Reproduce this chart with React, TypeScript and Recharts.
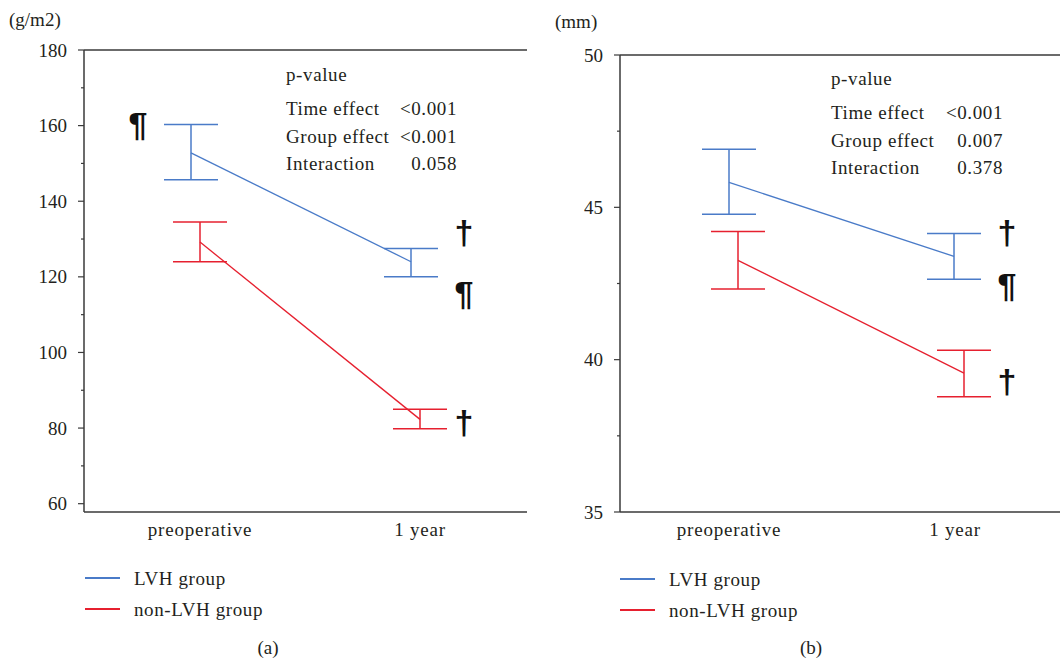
import React from 'react';
import { LineChart, Line, XAxis, YAxis, ErrorBar, ReferenceLine, ReferenceDot } from 'recharts';

const times = ['preoperative', '1 year'];

// (a) g/m2 : mean and error-bar ends per time point
const massLvhMean = [152.8, 124.0];
const massLvhLow = [145.7, 120.0];
const massLvhHigh = [160.3, 127.5];
const massNonMean = [129.2, 82.3];
const massNonLow = [124.0, 79.8];
const massNonHigh = [134.5, 85.0];
const massTicks = [60, 70, 80, 90, 100, 110, 120, 130, 140, 150, 160, 170, 180];
const massLabelled = [60, 80, 100, 120, 140, 160, 180];
const massDomain = [57.8, 180];
const massPvalues = [
  ['Time effect', '<0.001'],
  ['Group effect', '<0.001'],
  ['Interaction', '0.058'],
];

// (b) mm
const dimLvhMean = [45.82, 43.39];
const dimLvhLow = [44.77, 42.64];
const dimLvhHigh = [46.91, 44.14];
const dimNonMean = [43.26, 39.56];
const dimNonLow = [42.32, 38.78];
const dimNonHigh = [44.21, 40.31];
const dimTicks = [35, 37.5, 40, 42.5, 45, 47.5, 50];
const dimLabelled = [35, 40, 45, 50];
const dimDomain = [35, 50];
const dimPvalues = [
  ['Time effect', '<0.001'],
  ['Group effect', '0.007'],
  ['Interaction', '0.378'],
];

// significance symbols: which point and which value they sit beside
const massMarks = [
  { series: 'lvh', idx: 0, at: 'High', side: 'left', symbol: '¶' },
  { series: 'lvh', idx: 1, at: 'High', side: 'right', symbol: '†' },
  { series: 'lvh', idx: 1, at: 'Low', side: 'right', symbol: '¶' },
  { series: 'non', idx: 1, at: '', side: 'right', symbol: '†' },
];
const dimMarks = [
  { series: 'lvh', idx: 1, at: 'High', side: 'right', symbol: '†' },
  { series: 'lvh', idx: 1, at: 'Low', side: 'right', symbol: '¶' },
  { series: 'non', idx: 1, at: '', side: 'right', symbol: '†' },
];

const seriesNames = ['LVH group', 'non-LVH group'];

const BLUE = '#4a7bc8';
const RED = '#e6202f';
const INK = '#231f20';
const FRAME = '#3a3a3a';
const SERIF = "'Liberation Serif', 'DejaVu Serif', serif";

function buildRows(lm: number[], ll: number[], lh: number[], nm: number[], nl: number[], nh: number[]) {
  return times.map((time, i) => ({
    time,
    lvh: lm[i],
    lvhLow: ll[i],
    lvhHigh: lh[i],
    lvhErr: [lm[i] - ll[i], lh[i] - lm[i]],
    non: nm[i],
    nonLow: nl[i],
    nonHigh: nh[i],
    nonErr: [nm[i] - nl[i], nh[i] - nm[i]],
  }));
}

const YTick = ({ x, y, payload, labelled }: any) => {
  const major = labelled.includes(payload.value);
  return (
    <g>
      <line x1={x - (major ? 6 : 3)} x2={x} y1={y} y2={y} stroke={FRAME} strokeWidth={1.2} />
      {major && (
        <text x={x - 17} y={y} dy="0.35em" textAnchor="end" style={{ fontFamily: SERIF, fontSize: 19 }} fill={INK}>
          {payload.value}
        </text>
      )}
    </g>
  );
};

const XTick = ({ x, y, payload, shift }: any) => (
  <text x={x + shift} y={y + 23.5} textAnchor="middle" style={{ fontFamily: SERIF, fontSize: 19, letterSpacing: 0.8 }} fill={INK}>
    {payload.value}
  </text>
);

function Panel({ rows, domain, ticks, labelled, marks, nudge, cfg }: any) {
  return (
    <LineChart width={cfg.width} height={560} data={rows} margin={cfg.margin}>
      <XAxis xAxisId="blue" dataKey="time" scale="point" padding={cfg.bluePad} height={0} hide />
      <XAxis
        xAxisId="red"
        dataKey="time"
        scale="point"
        padding={cfg.redPad}
        height={40}
        interval={0}
        axisLine={{ stroke: FRAME, strokeWidth: 1.5 }}
        tickLine={false}
        tickSize={0}
        tickMargin={0}
        tick={(p: any) => <XTick {...p} shift={cfg.labelShift} />}
      />
      <YAxis
        yAxisId="v"
        type="number"
        domain={domain}
        allowDataOverflow
        ticks={ticks}
        interval={0}
        width={cfg.yWidth}
        axisLine={{ stroke: FRAME, strokeWidth: 1.5 }}
        tickLine={false}
        tickSize={0}
        tickMargin={0}
        tick={(p: any) => <YTick {...p} labelled={labelled} />}
      />
      <YAxis
        yAxisId="frame"
        orientation="right"
        width={0}
        tick={false}
        tickLine={false}
        axisLine={{ stroke: FRAME, strokeWidth: 1.5 }}
      />
      <ReferenceLine xAxisId="red" yAxisId="v" y={domain[1]} stroke={FRAME} strokeWidth={1.5} />

      <Line xAxisId="blue" yAxisId="v" dataKey="lvh" stroke={BLUE} strokeWidth={1.3} dot={false} isAnimationActive={false}>
        <ErrorBar dataKey="lvhErr" width={27} stroke={BLUE} strokeWidth={1.5} direction="y" />
      </Line>
      <Line xAxisId="red" yAxisId="v" dataKey="non" stroke={RED} strokeWidth={1.3} dot={false} isAnimationActive={false}>
        <ErrorBar dataKey="nonErr" width={27} stroke={RED} strokeWidth={1.5} direction="y" />
      </Line>

      {marks.map((m: any, i: number) => (
        <ReferenceDot
          key={i}
          xAxisId="blue"
          yAxisId="v"
          x={times[m.idx]}
          y={rows[m.idx][m.series + m.at]}
          r={1}
          shape={(p: any) => (
            <text
              x={p.cx + (m.side === 'left' ? -53 : 53)}
              y={p.cy + (m.side === 'left' ? nudge.Left : nudge[m.at || 'Mean'])}
              dominantBaseline="central"
              textAnchor="middle"
              style={{ fontFamily: "'Liberation Sans', Arial, sans-serif", fontSize: 34, fontWeight: 'bold' }}
              fill="#111"
            >
              {m.symbol}
            </text>
          )}
        />
      ))}
    </LineChart>
  );
}

function Notes({ x, valueX, y, pvalues }: any) {
  return (
    <g style={{ fontFamily: SERIF, fontSize: 19, letterSpacing: 0.6 }} fill={INK}>
      <text x={x} y={y}>p-value</text>
      {pvalues.map((row: string[], i: number) => (
        <g key={row[0]}>
          <text x={x} y={y + 34 + i * 27.6}>{row[0]}</text>
          <text x={valueX} y={y + 34 + i * 27.6} textAnchor="end">{row[1]}</text>
        </g>
      ))}
    </g>
  );
}

function Legend({ x, y }: any) {
  const colors = [BLUE, RED];
  return (
    <g style={{ fontFamily: SERIF, fontSize: 19, letterSpacing: 0.6 }} fill={INK}>
      {seriesNames.map((name, i) => (
        <g key={name}>
          <line x1={x} x2={x + 35} y1={y + i * 31} y2={y + i * 31} stroke={colors[i]} strokeWidth={1.8} />
          <text x={x + 49} y={y + i * 31 + 7}>{name}</text>
        </g>
      ))}
    </g>
  );
}

export default function App() {
  const massRows = buildRows(massLvhMean, massLvhLow, massLvhHigh, massNonMean, massNonLow, massNonHigh);
  const dimRows = buildRows(dimLvhMean, dimLvhLow, dimLvhHigh, dimNonMean, dimNonLow, dimNonHigh);

  return (
    <div style={{ position: 'absolute', left: 0, top: 0, width: 1060, height: 664, overflow: 'hidden', background: '#fff' }}>
      <div style={{ position: 'absolute', left: 0, top: 0 }}>
        <Panel
          rows={massRows}
          domain={massDomain}
          ticks={massTicks}
          labelled={massLabelled}
          marks={massMarks}
          nudge={{ High: -16, Low: 16.5, Mean: 3, Left: 0 }}
          cfg={{
            width: 540,
            margin: { top: 50, right: 13, left: 0, bottom: 8 },
            yWidth: 84,
            bluePad: { left: 107, right: 116 },
            redPad: { left: 116, right: 107 },
            labelShift: 0,
          }}
        />
      </div>
      <div style={{ position: 'absolute', left: 530, top: 0 }}>
        <Panel
          rows={dimRows}
          domain={dimDomain}
          ticks={dimTicks}
          labelled={dimLabelled}
          marks={dimMarks}
          nudge={{ High: -2, Low: 6, Mean: 8, Left: 0 }}
          cfg={{
            width: 542,
            margin: { top: 55, right: 10, left: 0, bottom: 8 },
            yWidth: 90,
            bluePad: { left: 109, right: 108 },
            redPad: { left: 118, right: 98 },
            labelShift: -9,
          }}
        />
      </div>
      <svg width={1060} height={664} style={{ position: 'absolute', left: 0, top: 0, pointerEvents: 'none' }}>
        <g style={{ fontFamily: SERIF, fontSize: 19 }} fill={INK}>
          <text x={9} y={26}>(g/m2)</text>
          <text x={555} y={28}>(mm)</text>
          <text x={268} y={654} textAnchor="middle">(a)</text>
          <text x={811} y={654} textAnchor="middle">(b)</text>
        </g>
        <Notes x={286} valueX={457} y={81} pvalues={massPvalues} />
        <Notes x={831} valueX={1003} y={85} pvalues={dimPvalues} />
        <Legend x={85} y={578} />
        <Legend x={620} y={579} />
      </svg>
    </div>
  );
}
